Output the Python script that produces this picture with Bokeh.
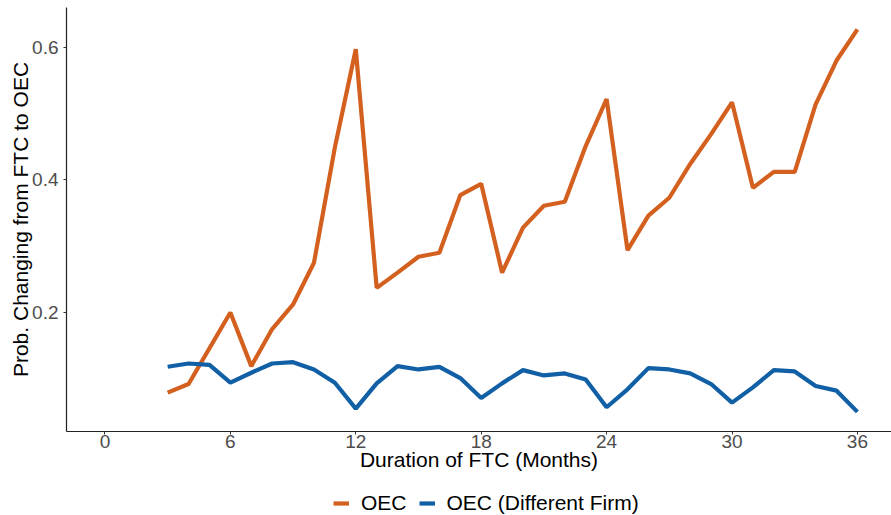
from bokeh.plotting import figure
from bokeh.layouts import column
from bokeh.models import Range1d, FixedTicker, Legend, LegendItem, ColumnDataSource
from bokeh.embed import file_html
from bokeh.resources import INLINE

months = list(range(3, 37))
oec = [0.079, 0.092, 0.146, 0.200, 0.119, 0.175, 0.212, 0.275, 0.449, 0.597,
       0.237, 0.260, 0.284, 0.290, 0.377, 0.394, 0.260, 0.328, 0.361, 0.367,
       0.451, 0.522, 0.294, 0.346, 0.373, 0.424, 0.469, 0.517, 0.388, 0.412,
       0.412, 0.514, 0.580, 0.627]
oec_diff = [0.118, 0.123, 0.121, 0.094, 0.109, 0.123, 0.125, 0.114, 0.094, 0.055,
            0.093, 0.119, 0.114, 0.118, 0.101, 0.071, 0.093, 0.113, 0.105, 0.108,
            0.099, 0.057, 0.084, 0.116, 0.114, 0.108, 0.092, 0.064, 0.087, 0.113,
            0.111, 0.089, 0.082, 0.050]
x_ticks = [0, 6, 12, 18, 24, 30, 36]
y_ticks = [0.2, 0.4, 0.6]
series_names = ["OEC", "OEC (Different Firm)"]
colors = ["#D4601F", "#1160A6"]

FONT = "Liberation Sans"
W = 891

p = figure(width=W, height=478, output_backend="svg", toolbar_location=None,
           x_range=Range1d(-1.84, 37.63), y_range=Range1d(0.0204, 0.660),
           min_border_left=66, min_border_right=0, min_border_top=7, min_border_bottom=47)
p.outline_line_color = None
p.xgrid.visible = False
p.ygrid.visible = False

src = ColumnDataSource(dict(x=months, a=oec, b=oec_diff))
r1 = p.line("x", "a", source=src, line_color=colors[0], line_width=4.2)
r2 = p.line("x", "b", source=src, line_color=colors[1], line_width=4.2)

for ax in (p.xaxis[0], p.yaxis[0]):
    ax.axis_line_color = "#222222"
    ax.axis_line_width = 1.2
    ax.major_tick_line_color = "#333333"
    ax.major_tick_out = 3
    ax.major_tick_in = 0
    ax.minor_tick_out = 0
    ax.minor_tick_in = 0
    ax.major_label_text_font = FONT
    ax.major_label_text_font_size = "19px"
    ax.major_label_text_color = "#4D4D4D"
    ax.axis_label_text_font = FONT
    ax.axis_label_text_font_size = "21px"
    ax.axis_label_text_font_style = "normal"
    ax.axis_label_text_color = "#000000"

p.xaxis[0].ticker = FixedTicker(ticks=x_ticks)
p.yaxis[0].ticker = FixedTicker(ticks=y_ticks)
p.xaxis[0].axis_label = "Duration of FTC (Months)"
p.yaxis[0].axis_label = "Prob. Changing from FTC to OEC"
p.xaxis[0].major_label_standoff = 0
p.xaxis[0].axis_label_standoff = -3
p.yaxis[0].major_label_standoff = 5
p.yaxis[0].axis_label_standoff = -3

# legend strip below the plot, its keys styled like the plotted lines
nan = float("nan")
lg = figure(width=W, height=37, output_backend="svg", toolbar_location=None,
            x_range=Range1d(0, 1), y_range=Range1d(0, 1),
            min_border_left=0, min_border_right=0, min_border_top=0, min_border_bottom=0,
            x_axis_location=None, y_axis_location=None)
lg.outline_line_color = None
lg.xgrid.visible = False
lg.ygrid.visible = False
k1 = lg.line(x=[nan], y=[nan], line_color=colors[0], line_width=4.2)
k2 = lg.line(x=[nan], y=[nan], line_color=colors[1], line_width=4.2)
legend = Legend(items=[LegendItem(label=series_names[0], renderers=[k1]),
                       LegendItem(label=series_names[1], renderers=[k2])],
                orientation="horizontal", location=(267, 0))
legend.label_text_font = FONT
legend.label_text_font_size = "21px"
legend.label_text_color = "#000000"
legend.border_line_color = None
legend.background_fill_alpha = 0
legend.glyph_width = 16
legend.glyph_height = 20
legend.label_standoff = 12
legend.spacing = 12
legend.padding = 0
legend.margin = 0
lg.add_layout(legend, "center")

layout = column(p, lg, spacing=0)
open("out.html", "w").write(file_html(layout, INLINE))
